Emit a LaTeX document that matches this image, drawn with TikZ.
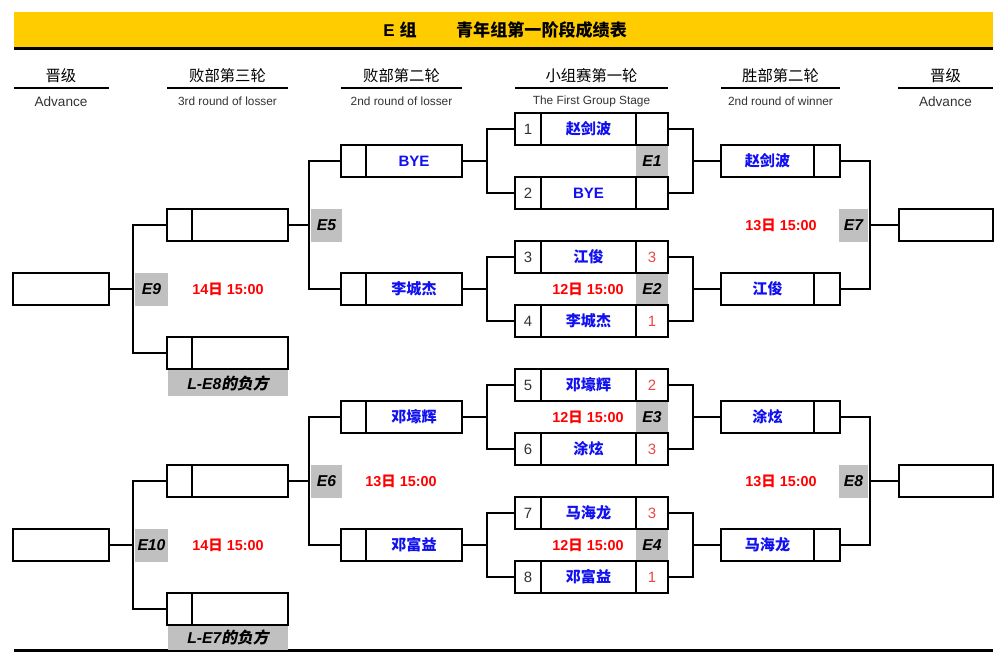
\documentclass[tikz,border=0pt]{standalone}
\usepackage{fontspec}
\setmainfont{Liberation Sans}
\newfontfamily\cjk{Noto Sans CJK SC}
\newfontfamily\cjksl{Noto Sans CJK SC}[FakeSlant=0.2]
\definecolor{hdryellow}{HTML}{FFCC00}
\definecolor{lblgray}{HTML}{C0C0C0}
\definecolor{nameblue}{HTML}{1010F0}
\definecolor{scorered}{HTML}{EE4444}
\definecolor{datered}{HTML}{FF0000}
\definecolor{numgray}{HTML}{333333}
\begin{document}
\begin{tikzpicture}[x=0.75pt,y=-0.75pt,
  cell/.style={draw=black,line width=1.3pt,inner sep=0pt,outer sep=0pt,minimum height={32*0.75pt}},
  numc/.style={cell,minimum width={26*0.75pt},text=numgray,font=\fontsize{11.2pt}{12pt}\selectfont},
  namec/.style={cell,text=nameblue,font=\fontsize{11.3pt}{12pt}\selectfont\bfseries},
  scorec/.style={cell,minimum width={32*0.75pt},text=scorered,font=\fontsize{11.2pt}{12pt}\selectfont},
  elabel/.style={fill=lblgray,inner sep=0pt,outer sep=0pt,font=\fontsize{11.8pt}{12pt}\selectfont\bfseries\itshape},
  datetxt/.style={text=datered,font=\fontsize{10.8pt}{12pt}\selectfont\bfseries,inner sep=0pt},
  conn/.style={line width=2.2pt,line join=miter},
  hdr/.style={font=\fontsize{11.5pt}{13pt}\selectfont,inner sep=0pt},
  sub/.style={font=\fontsize{8.9pt}{10pt}\selectfont,text=numgray,inner sep=0pt},
  subbig/.style={font=\fontsize{10.2pt}{11pt}\selectfont,text=numgray,inner sep=0pt},
  uline/.style={line width=1.8pt}]
\useasboundingbox (0,0) rectangle (1007,667);
\fill[white] (0,0) rectangle (1007,667);
% title band
\fill[hdryellow] (14,12) rectangle (993,47);
\draw[line width=2pt] (14,48.5) -- (993,48.5);
\node[font=\fontsize{12.8pt}{14pt}\selectfont\bfseries,inner sep=0pt] (t1) at (400,29.5) {E {\cjk 组}};
\node[font=\fontsize{12.8pt}{14pt}\selectfont\bfseries,inner sep=0pt] (t2) at (541.5,29.5) {\cjk 青年组第一阶段成绩表};
% column headers
\node[hdr] (h1) at (61,75.5) {\cjk 晋级};
\draw[uline] (14,88) -- (109,88);
\node[subbig] (h1e) at (61,101.5) {Advance};
\node[hdr] (h2) at (227.5,75.5) {\cjk 败部第三轮};
\draw[uline] (167,88) -- (288,88);
\node[sub] (h2e) at (227.5,101.5) {3rd round of losser};
\node[hdr] (h3) at (401.5,75.5) {\cjk 败部第二轮};
\draw[uline] (341,88) -- (462,88);
\node[sub] (h3e) at (401.5,101.5) {2nd round of losser};
\node[hdr] (h4) at (591.5,75.5) {\cjk 小组赛第一轮};
\draw[uline] (515,88) -- (668,88);
\node[sub] (h4e) at (591.5,101.5) {The First Group Stage};
\node[hdr] (h5) at (780.5,75.5) {\cjk 胜部第二轮};
\draw[uline] (721,88) -- (840,88);
\node[sub] (h5e) at (780.5,101.5) {2nd round of winner};
\node[hdr] (h6) at (945.5,75.5) {\cjk 晋级};
\draw[uline] (898,88) -- (993,88);
\node[subbig] (h6e) at (945.5,101.5) {Advance};
% bottom line
\draw[line width=2pt] (14,650.5) -- (993,650.5);

% group stage E-labels (gray, drawn first)
\node[elabel,minimum width={32*0.75pt},minimum height={32*0.75pt}] (e1) at (652,161) {E1};
\node[elabel,minimum width={32*0.75pt},minimum height={32*0.75pt}] (e2) at (652,289) {E2};
\node[elabel,minimum width={32*0.75pt},minimum height={32*0.75pt}] (e3) at (652,417) {E3};
\node[elabel,minimum width={32*0.75pt},minimum height={32*0.75pt}] (e4) at (652,545) {E4};

% group stage boxes
\foreach \i/\y/\nm/\sc in {1/129/{\cjk 赵剑波}/{},2/193/BYE/{},3/257/{\cjk 江俊}/3,4/321/{\cjk 李城杰}/1,5/385/{\cjk 邓壕辉}/2,6/449/{\cjk 涂炫}/3,7/513/{\cjk 马海龙}/3,8/577/{\cjk 邓富益}/1}{
  \node[numc] (gn\i) at (528,\y) {\i};
  \node[namec,minimum width={95*0.75pt}] (gm\i) at (588.5,\y) {\nm};
  \node[scorec] (gs\i) at (652,\y) {\sc};
}
% dates in group stage
\node[datetxt] (d2) at (588,289) {12{\cjk 日} 15:00};
\node[datetxt] (d3) at (588,417) {12{\cjk 日} 15:00};
\node[datetxt] (d4) at (588,545) {12{\cjk 日} 15:00};

% winner round 2
\foreach \i/\y/\nm in {1/161/{\cjk 赵剑波},2/289/{\cjk 江俊},3/417/{\cjk 涂炫},4/545/{\cjk 马海龙}}{
  \node[namec,minimum width={93*0.75pt}] (wm\i) at (767.5,\y) {\nm};
  \node[cell,minimum width={26*0.75pt}] (ws\i) at (827,\y) {};
}
\node[elabel,minimum width={29*0.75pt},minimum height={33*0.75pt}] (e7) at (853.5,225.5) {E7};
\node[elabel,minimum width={29*0.75pt},minimum height={33*0.75pt}] (e8) at (853.5,481.5) {E8};
\node[datetxt] (d7) at (781,225) {13{\cjk 日} 15:00};
\node[datetxt] (d8) at (781,481) {13{\cjk 日} 15:00};
\node[cell,minimum width={94*0.75pt}] (ar1) at (946,225) {};
\node[cell,minimum width={94*0.75pt}] (ar2) at (946,481) {};

% loser round 2
\foreach \i/\y/\nm in {1/161/BYE,2/289/{\cjk 李城杰},3/417/{\cjk 邓壕辉},4/545/{\cjk 邓富益}}{
  \node[cell,minimum width={25*0.75pt}] (ln\i) at (353.5,\y) {};
  \node[namec,minimum width={96*0.75pt}] (lm\i) at (414,\y) {\nm};
}
\node[elabel,minimum width={31*0.75pt},minimum height={33*0.75pt}] (e5) at (326.5,225.5) {E5};
\node[elabel,minimum width={31*0.75pt},minimum height={33*0.75pt}] (e6) at (326.5,481.5) {E6};
\node[datetxt] (d6) at (401,481) {13{\cjk 日} 15:00};

% loser round 3
\foreach \i/\y in {1/225,2/353,3/481,4/609}{
  \node[cell,minimum width={25*0.75pt}] (kn\i) at (179.5,\y) {};
  \node[cell,minimum width={96*0.75pt}] (km\i) at (240,\y) {};
}
\node[elabel,minimum width={120*0.75pt},minimum height={26*0.75pt}] (le8) at (228,383) {L-E8{\cjksl\bfseries 的负方}};
\node[elabel,minimum width={120*0.75pt},minimum height={24*0.75pt}] (le7) at (228,637.5) {L-E7{\cjksl\bfseries 的负方}};
\node[elabel,minimum width={33*0.75pt},minimum height={33*0.75pt}] (e9) at (151.5,289.5) {E9};
\node[elabel,minimum width={33*0.75pt},minimum height={33*0.75pt}] (e10) at (151.5,545) {E10};
\node[datetxt] (d9) at (228,289) {14{\cjk 日} 15:00};
\node[datetxt] (d10) at (228,545) {14{\cjk 日} 15:00};
\node[cell,minimum width={96*0.75pt}] (al1) at (61,289) {};
\node[cell,minimum width={96*0.75pt}] (al2) at (61,545) {};

% connectors: group stage left brackets
\foreach \a/\b/\t in {1/2/1,3/4/2,5/6/3,7/8/4}{
  \draw[conn] (gn\a.west) -- ++(-28,0) |- (gn\b.west);
  \draw[conn] (lm\t.east) -- ++(25,0);
}
% group stage right brackets
\foreach \a/\b/\t in {1/2/1,3/4/2,5/6/3,7/8/4}{
  \draw[conn] (gs\a.east) -- ++(25,0) |- (gs\b.east);
  \draw[conn] (wm\t.west) -- ++(-28,0);
}
% winner round brackets
\draw[conn] (ws1.east) -- ++(30,0) |- (ws2.east);
\draw[conn] (ar1.west) -- ++(-29,0);
\draw[conn] (ws3.east) -- ++(30,0) |- (ws4.east);
\draw[conn] (ar2.west) -- ++(-29,0);
% loser round 2 brackets
\draw[conn] (ln1.west) -- ++(-32,0) |- (ln2.west);
\draw[conn] (km1.east) -- ++(21,0);
\draw[conn] (ln3.west) -- ++(-32,0) |- (ln4.west);
\draw[conn] (km3.east) -- ++(21,0);
% loser round 3 brackets
\draw[conn] (kn1.west) -- ++(-34,0) |- (kn2.west);
\draw[conn] (al1.east) -- ++(24,0);
\draw[conn] (kn3.west) -- ++(-34,0) |- (kn4.west);
\draw[conn] (al2.east) -- ++(24,0);
\end{tikzpicture}
\end{document}
